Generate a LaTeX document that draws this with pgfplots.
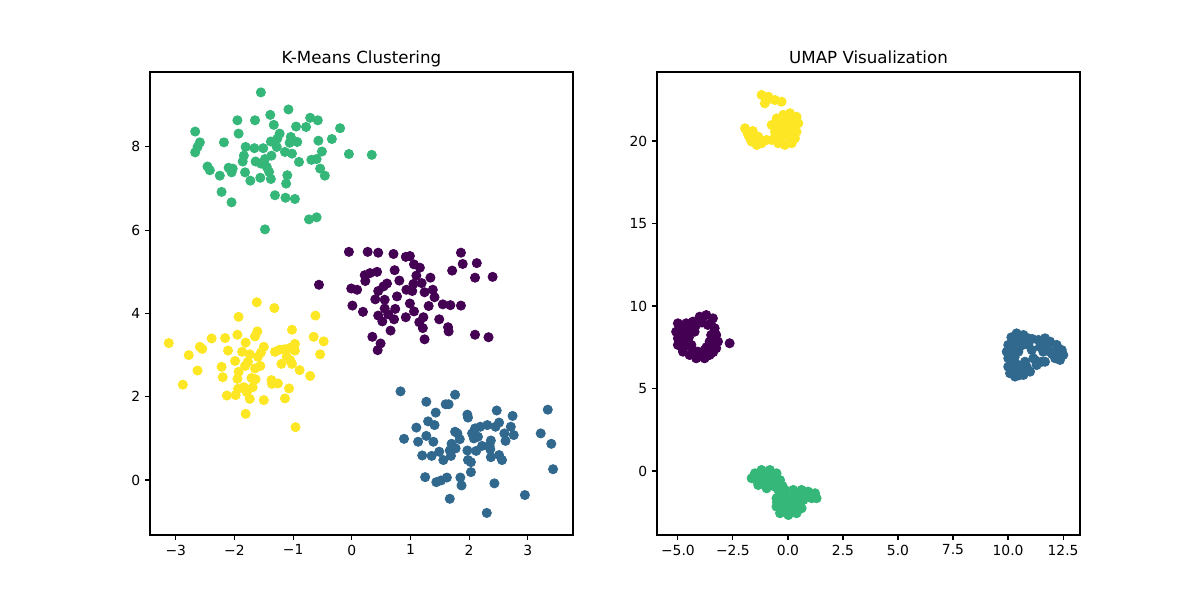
\documentclass[border=0pt]{standalone}
\usepackage{fontspec}
\setmainfont{DejaVu Sans}
\usepackage{pgfplots}
\pgfplotsset{compat=1.18}
\definecolor{vpurple}{HTML}{440154}
\definecolor{vblue}{HTML}{31688E}
\definecolor{vgreen}{HTML}{35B779}
\definecolor{vyellow}{HTML}{FDE725}
\pgfplotsset{mystyle/.style={
  scale only axis, width=304.56pt, height=333.36pt,
  tick pos=left, tick align=outside, major tick length=3.5pt,
  every tick/.style={black, line width=0.8pt},
  axis line style={line width=0.8pt},
  ticklabel style={font=\fontsize{10}{12}\selectfont},
  /pgf/number format/assume math mode=true,
  title style={font=\fontsize{12}{14}\selectfont, anchor=base, inner sep=0pt},
  every axis plot/.append style={only marks, mark=*, mark size=3.3pt},
}}
\begin{document}
\begin{tikzpicture}
\path (0,0) rectangle (864pt,432pt);
\begin{axis}[mystyle, at={(108pt,46.8pt)}, anchor=south west,
  title={K-Means Clustering},
  xmin=-3.44, xmax=3.77, ymin=-1.32, ymax=9.80,
  xtick={-3,-2,-1,0,1,2,3}, xticklabels={−3,−2,−1,0,1,2,3},
  ytick={0,2,4,6,8}, yticklabels={0,2,4,6,8}]
% green
\addplot[vgreen, mark options={fill=vgreen, draw=vgreen, line width=0.6pt}] coordinates {
(-1.55,9.31)(-1.08,8.90)(-1.39,8.77)(-1.95,8.64)(-1.65,8.64)(-1.33,8.53)(-0.71,8.70)(-0.58,8.64)
(-0.95,8.49)(-0.78,8.48)(-0.20,8.45)(-2.67,8.37)(-1.93,8.32)(-1.23,8.32)(-2.59,8.11)(-2.63,8.00)
(-2.67,7.87)(-2.18,8.11)(-1.04,8.24)(-0.93,8.12)(-1.06,8.10)(-1.38,8.13)(-1.27,8.20)(-0.57,8.15)
(-0.34,8.19)(-0.05,7.83)(-1.81,8.00)(-1.66,7.97)(-1.51,7.97)(-1.28,8.00)(-1.14,7.88)(-1.02,7.84)
(-0.51,7.89)(-1.84,7.79)(-1.37,7.79)(-1.48,7.71)(-0.69,7.69)(-0.60,7.71)(-0.90,7.64)(-1.86,7.65)
(-1.64,7.65)(-1.55,7.60)(-2.46,7.53)(-2.42,7.44)(-2.10,7.50)(-2.03,7.48)(-2.05,7.39)(-1.45,7.52)
(-1.41,7.40)(-0.54,7.48)(-0.46,7.31)(-2.25,7.31)(-1.82,7.39)(-1.56,7.26)(-1.73,7.19)(-1.38,7.23)
(-1.10,7.32)(-1.12,7.12)(-2.22,6.92)(-1.31,6.84)(-1.13,6.78)(-0.97,6.75)(-2.05,6.67)(-0.73,6.26)
(-0.60,6.31)(-1.48,6.02)(0.34,7.81)
};
% purple
\addplot[vpurple, mark options={fill=vpurple, draw=vpurple, line width=0.6pt}] coordinates {
(-0.05,5.48)(0.27,5.48)(0.45,5.46)(0.71,5.43)(0.92,5.36)(0.99,5.38)(1.06,5.18)(1.16,5.10)
(1.86,5.46)(1.89,5.19)(2.13,5.21)(1.71,5.03)(2.10,4.86)(2.40,4.88)(0.73,5.04)(0.22,4.92)
(0.31,4.97)(0.43,5.00)(0.23,4.78)(1.10,4.91)(1.34,4.86)(0.81,4.79)(1.05,4.71)(1.19,4.73)
(0.60,4.72)(0.54,4.65)(0.45,4.54)(-0.01,4.60)(0.09,4.57)(0.93,4.57)(1.03,4.54)(1.24,4.51)
(1.38,4.57)(1.41,4.39)(0.77,4.41)(0.40,4.34)(0.56,4.33)(0.99,4.24)(1.31,4.18)(1.55,4.22)
(1.68,4.20)(1.86,4.19)(0.01,4.19)(0.19,4.04)(0.56,4.12)(0.74,4.11)(1.06,4.05)(0.45,3.95)
(0.62,3.98)(0.52,3.81)(0.72,3.86)(0.92,3.91)(1.22,3.91)(1.15,3.79)(1.21,3.65)(1.49,3.86)
(1.64,3.67)(1.65,3.57)(0.66,3.59)(0.35,3.44)(1.24,3.38)(2.10,3.49)(2.33,3.43)(0.49,3.28)
(0.44,3.12)(-0.56,4.69)
};
% yellow
\addplot[vyellow, mark options={fill=vyellow, draw=vyellow, line width=0.6pt}] coordinates {
(-1.62,4.27)(-1.32,4.13)(-0.62,3.95)(-1.93,3.92)(-1.02,3.61)(-1.61,3.57)(-1.65,3.45)(-1.95,3.49)
(-2.16,3.41)(-2.39,3.40)(-0.65,3.44)(-0.48,3.33)(-3.12,3.29)(-2.59,3.20)(-2.55,3.15)(-2.78,3.00)
(-1.81,3.30)(-2.11,3.11)(-1.87,3.08)(-1.74,3.02)(-1.50,3.20)(-1.55,3.06)(-1.60,2.96)(-1.99,2.86)
(-1.77,2.84)(-1.56,2.74)(-1.65,2.68)(-1.82,2.74)(-2.22,2.72)(-1.93,2.60)(-2.63,2.63)(-2.20,2.47)
(-1.95,2.43)(-1.71,2.45)(-1.64,2.42)(-1.69,2.23)(-1.84,2.23)(-1.94,2.19)(-1.98,2.04)(-2.13,2.03)
(-1.79,2.11)(-1.74,1.95)(-1.50,1.92)(-2.88,2.29)(-1.81,1.59)(-0.96,1.27)(-1.31,3.08)(-1.23,3.13)
(-1.15,3.14)(-1.06,3.17)(-0.97,3.27)(-0.97,3.11)(-1.11,2.96)(-1.05,2.88)(-1.20,2.79)(-1.02,2.79)
(-0.54,3.02)(-0.89,2.64)(-0.71,2.50)(-1.37,2.40)(-1.26,2.32)(-1.36,2.31)(-1.07,2.20)(-1.14,1.96)
};
% blue
\addplot[vblue, mark options={fill=vblue, draw=vblue, line width=0.6pt}] coordinates {
(0.83,2.13)(1.76,2.05)(1.27,1.88)(1.60,1.82)(1.65,1.82)(3.34,1.69)(2.47,1.67)(1.43,1.62)
(1.97,1.57)(1.98,1.50)(2.74,1.54)(1.30,1.41)(1.41,1.32)(2.51,1.38)(2.45,1.28)(2.71,1.28)
(1.10,1.26)(2.10,1.24)(2.19,1.28)(2.31,1.32)(1.76,1.16)(1.80,1.12)(2.05,1.12)(2.60,1.12)
(2.76,1.08)(3.22,1.12)(1.27,1.06)(0.89,0.99)(1.13,0.92)(1.39,0.92)(1.84,0.98)(2.08,1.00)
(2.15,1.04)(2.37,0.95)(2.62,0.94)(3.40,0.87)(1.70,0.87)(1.77,0.76)(1.67,0.71)(1.97,0.71)
(2.12,0.70)(2.22,0.82)(2.35,0.82)(2.36,0.74)(1.49,0.68)(1.20,0.59)(1.36,0.58)(1.56,0.48)
(1.98,0.48)(2.03,0.43)(2.37,0.55)(2.51,0.60)(2.56,0.48)(1.69,0.58)(2.03,0.19)(3.43,0.26)
(1.25,0.07)(1.44,-0.05)(1.52,-0.01)(1.62,0.06)(1.85,0.06)(1.87,-0.13)(2.43,-0.08)(1.67,-0.45)
(2.95,-0.36)(2.30,-0.79)
};
\end{axis}
\begin{axis}[mystyle, at={(473.04pt,46.8pt)}, anchor=south west,
  title={UMAP Visualization},
  xmin=-5.95, xmax=13.27, ymin=-3.88, ymax=24.18,
  xtick={-5,-2.5,0,2.5,5,7.5,10,12.5},
  xticklabels={−5.0,−2.5,0.0,2.5,5.0,7.5,10.0,12.5},
  ytick={0,5,10,15,20}, yticklabels={0,5,10,15,20}]
% purple
\addplot[vpurple, mark options={fill=vpurple, draw=vpurple, line width=0.6pt}] coordinates {
(-4.01,9.35)(-3.71,9.45)(-3.41,9.25)(-5.00,8.95)(-4.62,8.95)(-4.32,9.05)(-5.08,8.44)(-5.00,8.04)
(-5.00,7.64)(-4.77,7.23)(-4.47,7.03)(-4.17,6.83)(-3.79,6.83)(-3.56,7.03)(-3.26,7.44)(-3.18,7.84)
(-3.26,8.24)(-3.33,8.65)(-4.24,8.44)(-4.17,8.85)(-4.62,8.34)(-4.62,7.84)(-4.39,7.64)(-3.56,7.84)
(-4.09,7.23)(-3.79,7.33)(-3.64,8.85)(-3.49,8.24)(-4.85,8.70)(-4.80,7.45)(-3.95,7.05)(-3.40,7.20)
(-4.40,8.60)(-4.80,8.20)(-4.85,7.90)(-4.60,7.60)(-4.30,7.30)(-4.00,7.00)(-3.40,7.60)(-3.40,8.00)
(-3.90,9.00)(-3.50,8.90)(-4.50,8.10)(-3.70,7.50)(-3.80,7.15)(-4.45,8.85)(-3.35,8.45)
(-2.65,7.74)
};
% blue
\addplot[vblue, mark options={fill=vblue, draw=vblue, line width=0.6pt}] coordinates {
(10.39,8.34)(10.70,8.24)(10.92,8.04)(10.01,7.64)(9.94,7.23)(10.01,6.83)(10.01,6.32)(10.09,5.92)
(10.32,5.72)(10.70,5.82)(11.00,6.02)(11.30,6.42)(11.53,6.62)(10.32,7.84)(10.24,7.33)(10.24,6.62)
(10.47,6.42)(10.77,6.62)(10.47,7.23)(11.08,7.33)(10.92,7.64)(11.15,6.83)(11.38,7.94)(11.68,8.04)
(11.91,7.84)(12.21,7.64)(12.44,7.33)(12.51,7.03)(12.36,6.73)(12.14,6.83)(11.91,7.23)(11.60,7.23)
(11.68,6.62)(11.45,7.53)(10.50,5.80)(10.20,6.05)
(10.50,8.00)(10.60,7.60)(10.15,7.00)(10.30,6.90)(10.60,6.20)(10.85,6.30)(11.25,6.70)(11.80,7.50)
(12.00,7.10)(12.30,7.10)(11.10,8.00)(11.60,7.85)(10.15,8.10)(10.20,6.40)(10.80,7.90)(12.25,7.35)
};
% green
\addplot[vgreen, mark options={fill=vgreen, draw=vgreen, line width=0.6pt}] coordinates {
(-1.65,-0.44)(-1.50,-0.14)(-1.20,0.06)(-0.82,0.06)(-0.52,-0.14)(-0.36,-0.55)(-0.59,-0.95)(-0.97,-1.05)
(-1.35,-0.85)(-1.12,-0.44)(-0.82,-0.55)(-1.42,-0.55)(-0.44,-1.15)(-0.14,-1.15)(0.24,-1.15)(0.62,-1.15)
(-0.52,-1.65)(-0.52,-2.16)(-0.36,-2.56)(0.02,-2.67)(0.39,-2.56)(0.62,-2.26)(0.70,-1.76)(0.09,-1.86)
(-0.21,-1.96)(0.32,-1.56)(-0.06,-1.56)(0.92,-1.25)(1.23,-1.35)(1.30,-1.65)(1.08,-1.65)(-1.00,-0.20)
(-0.30,-2.30)(0.30,-2.10)
(-1.30,-0.20)(-0.70,-0.30)(-1.00,-0.70)(-0.70,-0.80)(-0.25,-0.90)(-0.30,-1.40)(0.40,-1.90)(0.50,-1.40)
(0.20,-2.30)(-0.10,-2.50)(0.80,-1.40)(-0.50,-1.90)(-1.20,-0.70)(0.00,-2.10)(-0.20,-1.70)
};
% yellow
\addplot[vyellow, mark options={fill=vyellow, draw=vyellow, line width=0.6pt}] coordinates {
(-1.20,22.79)(-0.89,22.68)(-0.59,22.48)(-0.29,22.38)(-1.05,22.28)
(-1.95,20.77)(-1.80,20.36)(-1.65,19.96)(-1.42,19.76)(-1.20,19.86)(-1.35,20.26)(-0.97,20.06)
(-0.74,20.97)(-0.51,21.37)(-0.21,21.58)(0.09,21.68)(0.39,21.47)(0.47,21.07)(0.39,20.56)(0.32,20.16)
(0.17,19.86)(-0.14,19.76)(-0.44,19.86)(-0.74,20.06)(-0.59,20.56)(-0.14,20.97)(0.02,20.36)(-0.29,20.26)
(-1.85,20.55)(-1.55,20.10)
(-0.40,21.10)(-0.10,21.30)(0.20,21.20)(0.25,20.80)(-0.35,20.70)(0.10,20.00)(-0.50,20.30)(-1.70,20.10)
(-1.25,20.05)(-0.85,22.55)(-1.60,20.60)(-0.10,20.60)(0.15,20.45)(-0.60,20.80)
};
\end{axis}
\end{tikzpicture}
\end{document}
